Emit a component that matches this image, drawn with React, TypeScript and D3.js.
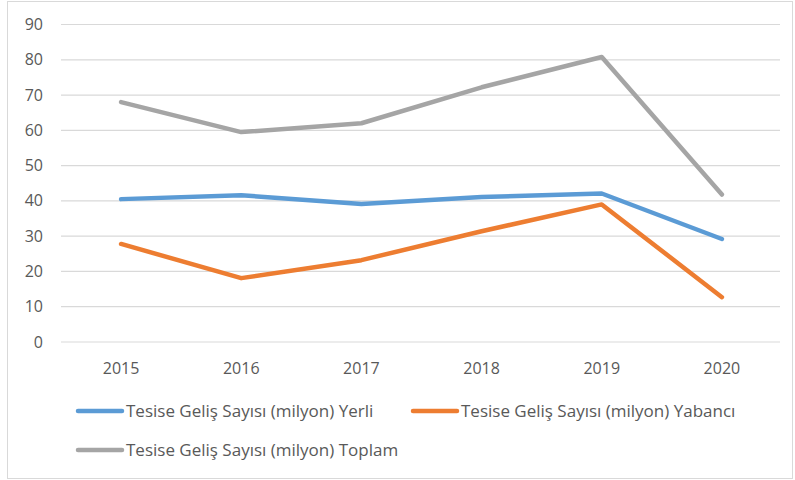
import { useRef, useEffect } from 'react';
import * as d3 from 'd3';

const years = ['2015', '2016', '2017', '2018', '2019', '2020'];
const yerli = [40.5, 41.6, 39.1, 41.1, 42.1, 29.2];
const yabanci = [27.8, 18.1, 23.2, 31.4, 39.0, 12.7];
const toplam = [68.0, 59.5, 62.0, 72.2, 80.8, 41.8];
const yTicks = [0, 10, 20, 30, 40, 50, 60, 70, 80, 90];

const series = [
  { name: 'Tesise Geliş Sayısı (milyon) Yerli', values: yerli, color: '#5b9bd5' },
  { name: 'Tesise Geliş Sayısı (milyon) Yabancı', values: yabanci, color: '#ed7d31' },
  { name: 'Tesise Geliş Sayısı (milyon) Toplam', values: toplam, color: '#a5a5a5' },
];

const App = () => {
  const svgRef = useRef<SVGSVGElement>(null);

  useEffect(() => {
    const svg = d3.select(svgRef.current);
    svg.selectAll('*').remove();

    const font = "'Open Sans', sans-serif";

    // outer frame
    svg.append('rect')
      .attr('x', 7.5).attr('y', 1.5)
      .attr('width', 785).attr('height', 477)
      .attr('fill', '#fff').attr('stroke', '#d9d9d9');

    const x = d3.scaleBand().domain(years).range([61, 782]);
    const y = d3.scaleLinear().domain([0, 90]).range([342, 24.5]);
    const cx = (d: string) => (x(d) as number) + x.bandwidth() / 2;

    // gridlines
    svg.append('g')
      .selectAll('line')
      .data(yTicks)
      .enter().append('line')
      .attr('x1', 61).attr('x2', 780)
      .attr('y1', d => y(d)).attr('y2', d => y(d))
      .attr('stroke', '#d9d9d9').attr('stroke-width', 1.2);

    // y labels
    svg.append('g')
      .selectAll('text')
      .data(yTicks)
      .enter().append('text')
      .attr('x', 43).attr('y', d => y(d) + 5.5)
      .attr('text-anchor', 'end')
      .attr('font-family', font).attr('font-size', 16)
      .attr('fill', '#595959')
      .text(d => d);

    // x labels
    svg.append('g')
      .selectAll('text')
      .data(years)
      .enter().append('text')
      .attr('x', d => cx(d)).attr('y', 374)
      .attr('text-anchor', 'middle')
      .attr('font-family', font).attr('font-size', 16)
      .attr('fill', '#595959')
      .text(d => d);

    const line = d3.line<number>()
      .x((_, i) => cx(years[i]))
      .y(d => y(d));

    series.forEach(s => {
      svg.append('path')
        .datum(s.values)
        .attr('d', line)
        .attr('fill', 'none')
        .attr('stroke', s.color)
        .attr('stroke-width', 4.5)
        .attr('stroke-linejoin', 'round')
        .attr('stroke-linecap', 'round');
    });

    // legend
    const legendPos = [
      { x: 78, y: 411 },
      { x: 413, y: 411 },
      { x: 78, y: 450 },
    ];
    series.forEach((s, i) => {
      const p = legendPos[i];
      svg.append('line')
        .attr('x1', p.x).attr('x2', p.x + 44)
        .attr('y1', p.y).attr('y2', p.y)
        .attr('stroke', s.color).attr('stroke-width', 4.5)
        .attr('stroke-linecap', 'round');
      svg.append('text')
        .attr('x', p.x + 48).attr('y', p.y + 6)
        .attr('font-family', font).attr('font-size', 17)
        .attr('fill', '#595959')
        .text(s.name);
    });
  }, []);

  return <svg ref={svgRef} width={795} height={480} style={{ position: 'absolute', left: 0, top: 0 }} />;
};

export default App;
